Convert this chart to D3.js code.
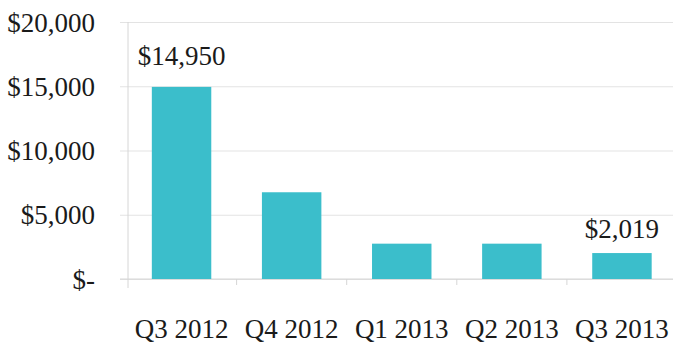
<!DOCTYPE html>
<html>
<head>
<meta charset="utf-8">
<script src="https://cdn.jsdelivr.net/npm/d3@7"></script>
<style>
  html, body { margin: 0; padding: 0; background: #fff; }
  svg { display: block; }
  text { font-family: "Liberation Serif", "Times New Roman", serif; fill: #1a1a1a; }
</style>
</head>
<body>
<svg id="chart" width="673" height="350"></svg>
<script>
const categories = ["Q3 2012", "Q4 2012", "Q1 2013", "Q2 2013", "Q3 2013"];
const values = [14950, 6750, 2750, 2750, 2019];
const labeledCategories = ["Q3 2012", "Q3 2013"];
const yTicks = [0, 5000, 10000, 15000, 20000];
const yTickLabels = ["$-", "$5,000", "$10,000", "$15,000", "$20,000"];

const svg = d3.select("#chart");
const W = 673;
const axisX = 128, gridStart = 120;
const y = d3.scaleLinear().domain([0, 20000]).range([279, 22]);
const x = d3.scaleBand().domain(categories).range([126.5, 677])
  .paddingInner(0.46).paddingOuter(0.23);

// gridlines + y labels
const yAxis = d3.axisLeft(y)
  .tickValues(yTicks)
  .tickSize(W - gridStart)
  .tickPadding(25)
  .tickFormat((d, i) => yTickLabels[yTicks.indexOf(d)]);
const gy = svg.append("g").attr("transform", `translate(${W},0)`).call(yAxis);
gy.select(".domain").remove();
gy.selectAll(".tick line").attr("stroke", "#e3e3e3").attr("stroke-width", 1);
gy.selectAll(".tick text").attr("font-size", 27).attr("dy", "0.34em")
  .attr("font-family", "Liberation Serif, serif").attr("fill", "#1a1a1a");

// baseline slightly darker
svg.append("line")
  .attr("x1", gridStart).attr("x2", W)
  .attr("y1", y(0)).attr("y2", y(0))
  .attr("stroke", "#d6d6d6");

// vertical axis line
svg.append("line")
  .attr("x1", axisX).attr("x2", axisX)
  .attr("y1", y(20000)).attr("y2", y(0) + 9)
  .attr("stroke", "#d6d6d6");

// category boundary ticks
const gap = (x.step() - x.bandwidth()) / 2;
svg.append("g").selectAll("line")
  .data(categories.slice(1))
  .join("line")
  .attr("x1", d => x(d) - gap).attr("x2", d => x(d) - gap)
  .attr("y1", y(0)).attr("y2", y(0) + 6)
  .attr("stroke", "#d6d6d6");

// bars
svg.append("g").selectAll("rect")
  .data(categories)
  .join("rect")
  .attr("x", d => x(d))
  .attr("width", x.bandwidth())
  .attr("y", (d, i) => y(values[i]))
  .attr("height", (d, i) => y(0) - y(values[i]))
  .attr("fill", "#3bbecb");

// x labels
const xAxis = d3.axisBottom(x).tickSize(0).tickPadding(40);
const gx = svg.append("g").attr("transform", `translate(0,${y(0)})`).call(xAxis);
gx.select(".domain").remove();
gx.selectAll(".tick text").attr("font-size", 27).attr("dy", "0.71em")
  .attr("font-family", "Liberation Serif, serif").attr("fill", "#1a1a1a");

// value labels
const fmt = d3.format(",");
svg.append("g").selectAll("text")
  .data(labeledCategories)
  .join("text")
  .attr("x", d => x(d) + x.bandwidth() / 2)
  .attr("y", d => y(values[categories.indexOf(d)]) - (categories.indexOf(d) === 0 ? 22 : 15))
  .attr("text-anchor", "middle")
  .attr("font-size", 27)
  .text(d => "$" + fmt(values[categories.indexOf(d)]));
</script>
</body>
</html>
